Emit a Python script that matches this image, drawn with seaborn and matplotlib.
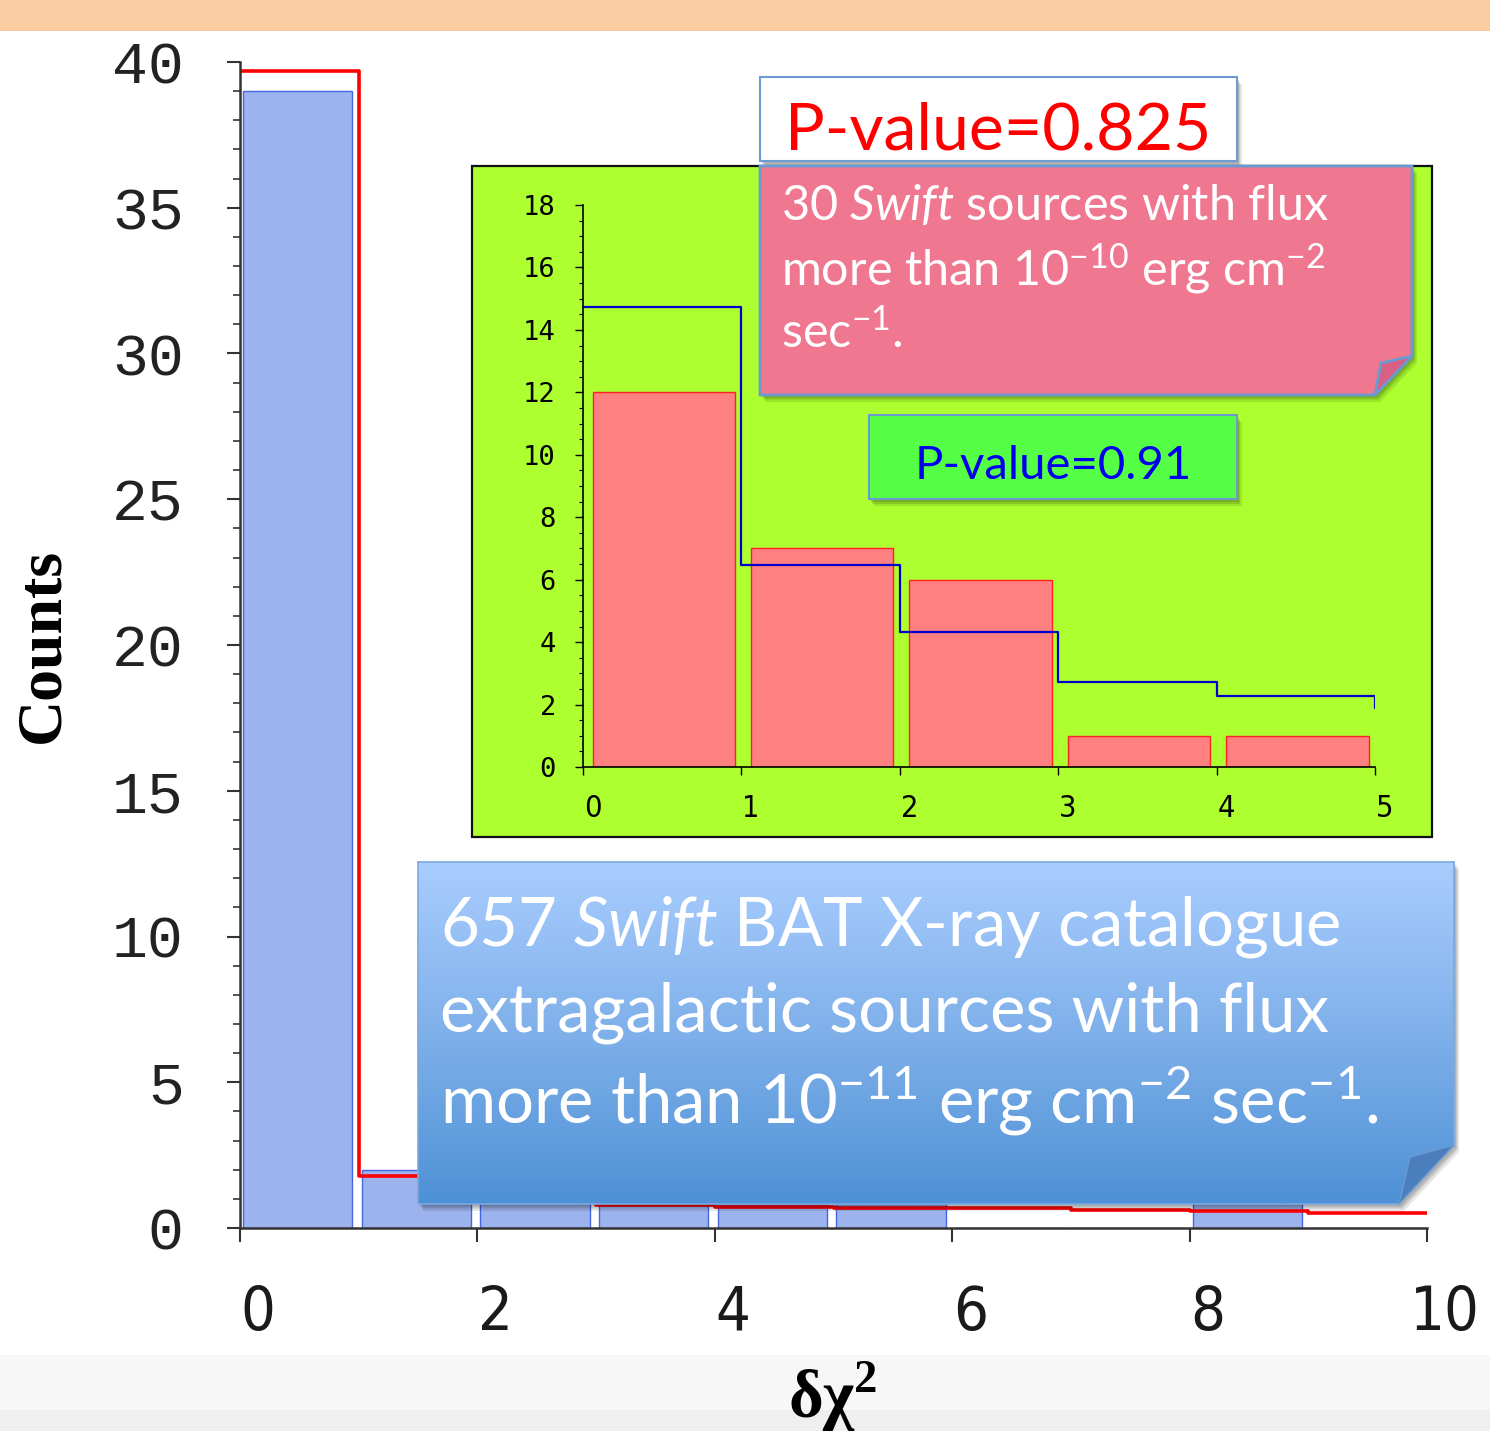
import numpy as np
import pandas as pd
import matplotlib
matplotlib.use("Agg")
import matplotlib.pyplot as plt
import seaborn as sns
from matplotlib.patches import Polygon, Rectangle
from matplotlib.colors import LinearSegmentedColormap
from matplotlib.transforms import Affine2D, ScaledTranslation

# ---------------- data ----------------
main_bin_left = [0, 1, 2, 3, 4, 5, 6, 7, 8, 9]
main_counts = [39, 2, 1, 1, 1, 1, 0, 0, 1, 0]
main_expected = [39.7, 1.8, 1.0, 0.79, 0.72, 0.69, 0.69, 0.62, 0.58, 0.51]
main_xticks = [0, 2, 4, 6, 8, 10]
main_yticks = [0, 5, 10, 15, 20, 25, 30, 35, 40]

inset_bin_left = [0, 1, 2, 3, 4]
inset_counts = [12, 7, 6, 1, 1]
inset_expected = [14.74, 6.47, 4.33, 2.72, 2.28, 1.89]
inset_xticks = [0, 1, 2, 3, 4, 5]
inset_yticks = [0, 2, 4, 6, 8, 10, 12, 14, 16, 18]

pvalue_main = "P-value=0.825"
pvalue_inset = "P-value=0.91"
pink_lines = ["30 $\\mathit{Swift}$ sources with flux",
              "more than 10$^{-10}$ erg cm$^{-2}$",
              "sec$^{-1}$."]
blue_lines = ["657 $\\mathit{Swift}$ BAT X-ray catalogue",
              "extragalactic sources with flux",
              "more than 10$^{-11}$ erg cm$^{-2}$ sec$^{-1}$."]

# ---------------- style ----------------
sns.set_theme(style="ticks")
plt.rcParams["font.family"] = ["DejaVu Sans"]
plt.rcParams["mathtext.fontset"] = "custom"
plt.rcParams["mathtext.rm"] = "Lato"
plt.rcParams["mathtext.it"] = "Lato:italic"
plt.rcParams["mathtext.bf"] = "Liberation Serif:bold"

W, H = 1490, 1431
fig = plt.figure(figsize=(W / 100, H / 100), dpi=100)
fig.patch.set_facecolor("white")
pix = Affine2D().scale(1 / W, -1 / H).translate(0, 1) + fig.transFigure

# background bands (behind everything)
fig.add_artist(Rectangle((0, 0), W, 31, transform=pix, fc="#FBCBA1", ec="none", zorder=-2))
fig.add_artist(Rectangle((0, 1355), W, 76, transform=pix, fc="#F7F7F7", ec="none", zorder=-2))
fig.add_artist(Rectangle((0, 1410), W, 21, transform=pix, fc="#EFEFEF", ec="none", zorder=-2))

# ---------------- main axes ----------------
ax = fig.add_axes([240 / W, 1 - 1228 / H, 1187 / W, 1166 / H], facecolor="none", zorder=0)
main_df = pd.DataFrame({"center": np.array(main_bin_left) + 0.485, "count": main_counts})
sns.barplot(data=main_df, x="center", y="count", native_scale=True, width=0.92,
            color="#9DB3ED", saturation=1, edgecolor="#4466E0", linewidth=1.0, ax=ax)
sns.lineplot(x=main_bin_left + [10], y=main_expected + [main_expected[-1]],
             drawstyle="steps-post", color="#FF0000", linewidth=2.6,
             estimator=None, sort=False, ax=ax)
sns.despine(ax=ax)
ax.set_xlim(0, 10)
ax.set_ylim(0, 40)
ax.set_xticks(main_xticks)
ax.set_xticklabels([str(v) for v in main_xticks])
ax.set_yticks(main_yticks)
ax.set_yticklabels([str(v) for v in main_yticks])
ax.set_yticks(range(0, 41), minor=True)
for s in ("left", "bottom"):
    ax.spines[s].set_color("#333333")
    ax.spines[s].set_linewidth(1.8)
ax.tick_params(axis="y", which="major", direction="out", length=9.5, width=1.5,
               color="#333333", pad=31, labelsize=43, labelcolor="#222222")
ax.tick_params(axis="y", which="minor", direction="out", length=5, width=1.2, color="#333333")
ax.tick_params(axis="x", which="major", direction="out", length=10, width=1.5,
               color="#333333", pad=30, labelsize=44, labelcolor="#1a1a1a")
ax.tick_params(axis="x", which="minor", length=0)
for lab in ax.get_yticklabels():
    lab.set_fontfamily(["Liberation Mono", "DejaVu Sans Mono"])
xoff = ScaledTranslation(13 / 72, 0, fig.dpi_scale_trans)
for lab in ax.get_xticklabels():
    lab.set_fontfamily(["DejaVu Sans"])
    lab.set_fontstretch("condensed")
    lab.set_transform(lab.get_transform() + xoff)
ax.set_ylabel("Counts", fontfamily="Liberation Serif", fontweight="bold", fontsize=46, color="black")
ax.yaxis.set_label_coords(-0.141, 0.5)
ax.set_xlabel("δχ$^{\\mathbf{2}}$", fontfamily="Liberation Serif", fontweight="bold",
              fontsize=48, color="black", va="baseline")
ax.xaxis.set_label_coords(0.4996, -0.162)

# green inset background
fig.add_artist(Rectangle((472, 166), 960, 671, transform=pix, fc="#ADFF2F",
                         ec="#111111", lw=1.6, zorder=1))

# ---------------- inset axes ----------------
axi = fig.add_axes([583 / W, 1 - 767 / H, 792 / W, 562 / H], facecolor="none", zorder=2)
inset_df = pd.DataFrame({"center": np.array(inset_bin_left) + 0.51, "count": inset_counts})
sns.barplot(data=inset_df, x="center", y="count", native_scale=True, width=0.9,
            color="#FF8080", saturation=1, edgecolor="#FF2020", linewidth=1.0, ax=axi)
sns.lineplot(x=list(range(len(inset_expected) + 1)), y=inset_expected + [inset_expected[-1]],
             drawstyle="steps-post", color="#0000CC", linewidth=1.6,
             estimator=None, sort=False, ax=axi)
sns.despine(ax=axi)
axi.set_xlim(0, 5)
axi.set_ylim(0, 18)
axi.set_xticks(inset_xticks)
axi.set_xticklabels([str(v) for v in inset_xticks])
axi.set_yticks(inset_yticks)
axi.set_yticklabels([str(v) for v in inset_yticks])
axi.set_yticks(np.arange(0, 18.01, 0.5), minor=True)
for s in ("left", "bottom"):
    axi.spines[s].set_color("black")
    axi.spines[s].set_linewidth(1.2)
axi.tick_params(axis="y", which="major", direction="out", length=5.5, width=1.0,
                color="black", pad=14, labelsize=19.5, labelcolor="black")
axi.tick_params(axis="y", which="minor", direction="out", length=3, width=0.8, color="black")
axi.tick_params(axis="x", which="major", direction="out", length=5.5, width=1.0,
                color="black", pad=14, labelsize=22, labelcolor="black")
axi.tick_params(axis="x", which="minor", length=0)
axi.set_xlabel("")
axi.set_ylabel("")
for lab in axi.get_yticklabels():
    lab.set_fontfamily(["DejaVu Sans Mono"])
xoff2 = ScaledTranslation(7 / 72, 0, fig.dpi_scale_trans)
for lab in axi.get_xticklabels():
    lab.set_fontfamily(["DejaVu Sans"])
    lab.set_fontstretch("condensed")
    lab.set_transform(lab.get_transform() + xoff2)

# ---------------- overlay for call-out boxes ----------------
ov = fig.add_axes([0, 0, 1, 1], zorder=3)
ov.axis("off")


def shadow(pts, dx=4, dy=6, z=3):
    for k, a in ((1.0, 0.10), (0.6, 0.12), (0.3, 0.12)):
        ov.add_patch(Polygon([(x + dx * k + 1, y + dy * k + 1) for x, y in pts], closed=True,
                             fc="black", ec="none", alpha=a, zorder=z))


def box(pts, fc, ec, lw=1.5, z=4):
    shadow(pts, z=z - 0.5)
    p = Polygon(pts, closed=True, fc=fc, ec=ec, lw=lw, zorder=z)
    ov.add_patch(p)
    return p


# P-value (main)
box([(760, 77), (1237, 77), (1237, 161), (760, 161)], "white", "#6C9BD2")
# pink note
box([(760, 166), (1412, 166), (1412, 356), (1375, 395), (760, 395)], "#EF7790", "#6A9AD0", lw=2)
ov.add_patch(Polygon([(1412, 356), (1381, 363), (1375, 395)], closed=True,
                     fc="#D95F84", ec="#6A9AD0", lw=2, zorder=4.2))
# green P-value (inset)
box([(869, 415), (1237, 415), (1237, 499), (869, 499)], "#55FF45", "#6A9AD0")
# blue note with gradient
blue_pts = [(418, 862), (1454, 862), (1454, 1145), (1399, 1204), (418, 1204)]
shadow(blue_pts, z=3.5)
bpoly = Polygon(blue_pts, closed=True, fc="none", ec="#7AA8E0", lw=1.2, zorder=4.1)
ov.add_patch(bpoly)
cmap = LinearSegmentedColormap.from_list("bg", ["#A9CDFE", "#7FB0EA", "#4E91D6"])
grad = np.linspace(0, 1, 256).reshape(-1, 1)
im = ov.imshow(grad, extent=(418, 1454, 1204, 862), cmap=cmap, aspect="auto",
               origin="upper", zorder=4, interpolation="bilinear")
im.set_clip_path(bpoly)
ov.add_patch(Polygon([(1454, 1145), (1410, 1157), (1399, 1204)], closed=True,
                     fc="#4A7EBD", ec="#6A9AD0", lw=1.0, zorder=4.3))
ov.set_xlim(0, W)
ov.set_ylim(H, 0)

# texts
t_p1 = ov.text(785, 150, pvalue_main, color="#FF0000", fontfamily="Lato", fontsize=50,
               va="baseline", ha="left", zorder=6)
t_p2 = ov.text(915, 479, pvalue_inset, color="#0000EE", fontfamily="Lato", fontsize=38,
               va="baseline", ha="left", zorder=6)
pink_t = [ov.text(781, yb, s, color="white", fontfamily="Lato", fontsize=34,
                  va="baseline", ha="left", zorder=6)
          for s, yb in zip(pink_lines, [220, 285, 347])]
blue_t = [ov.text(440, yb, s, color="white", fontfamily="Lato", fontsize=56,
                  va="baseline", ha="left", zorder=6)
          for s, yb in zip(blue_lines, [945, 1032, 1123])]

fig.canvas.draw()
r = fig.canvas.get_renderer()


def fit(t, target):
    w = t.get_window_extent(r).width
    t.set_fontsize(t.get_fontsize() * target / w)


fit(t_p1, 427)
fit(t_p2, 277)
fit(pink_t[0], 548)
for t in pink_t[1:]:
    t.set_fontsize(pink_t[0].get_fontsize())
fit(blue_t[0], 900)
for t in blue_t[1:]:
    t.set_fontsize(blue_t[0].get_fontsize())

fig.savefig("out.png", dpi=100)
